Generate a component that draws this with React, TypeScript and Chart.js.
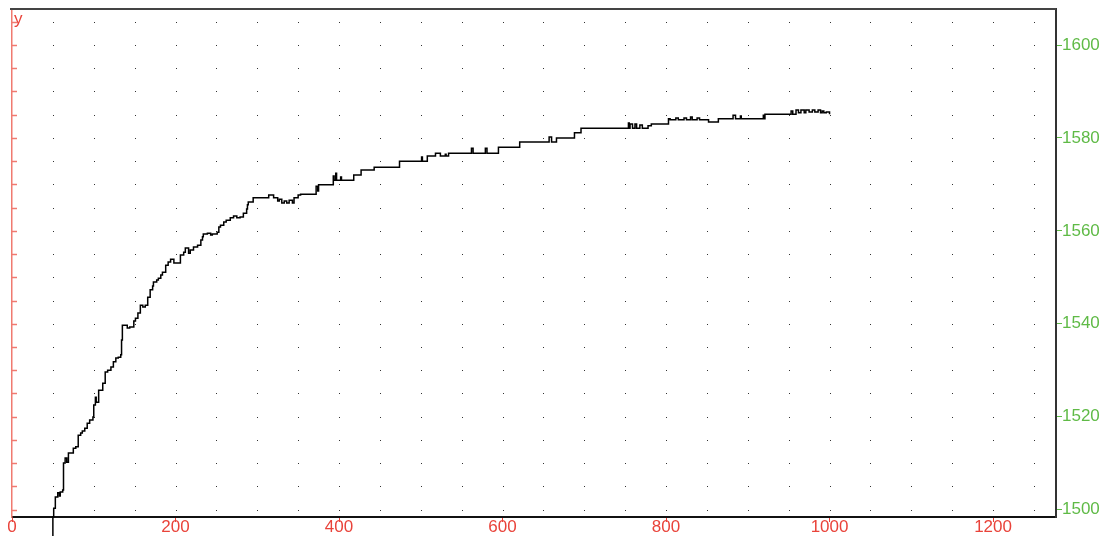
import React, { useEffect, useRef } from "react";
import { Chart, registerables } from "chart.js";

Chart.register(...registerables);

// ---- data ----
const GENERATIONS = [
  49, 50, 51, 53, 56, 58, 59, 62, 63, 65, 67, 69, 75, 78, 81, 84, 86, 89, 92, 95,
  99, 100, 102, 103, 106, 111, 114, 117, 121, 124, 127, 130, 133, 134, 135, 141, 144, 149, 151, 154,
  157, 160, 163, 166, 169, 172, 173, 177, 179, 182, 184, 188, 191, 194, 198, 206, 210, 212, 216, 218,
  222, 227, 231, 233, 234, 239, 243, 245, 251, 253, 255, 259, 262, 267, 271, 275, 279, 283, 287, 288,
  289, 295, 314, 320, 325, 327, 330, 333, 336, 339, 343, 345, 350, 353, 372, 374, 375, 393, 394, 396,
  397, 402, 403, 418, 427, 443, 474, 501, 502, 508, 518, 524, 530, 531, 534, 562, 564, 579, 581, 595,
  621, 657, 660, 666, 688, 696, 754, 755, 756, 759, 762, 764, 768, 771, 778, 782, 803, 805, 812, 815,
  822, 825, 830, 832, 838, 841, 852, 864, 882, 885, 891, 892, 919, 920, 921, 953, 955, 959, 962, 965,
  969, 971, 975, 979, 982, 986, 989, 991, 993, 996, 1000,
];
const BEST_FITNESS = [
  1493.4, 1498.4, 1500.3, 1502.7, 1503.6, 1502.9, 1503.8, 1504.2, 1510.0, 1511.1, 1510.2, 1512.2, 1513.2, 1513.5, 1516.0, 1516.5, 1516.9, 1517.5, 1518.6, 1519.3,
  1519.9, 1522.5, 1524.2, 1523.1, 1525.7, 1527.2, 1529.6, 1530.0, 1530.7, 1531.8, 1532.6, 1532.8, 1533.3, 1536.5, 1539.7, 1539.1, 1539.3, 1540.6, 1541.2, 1542.3,
  1544.0, 1543.6, 1544.0, 1545.7, 1547.3, 1548.1, 1549.0, 1549.4, 1549.8, 1550.5, 1551.1, 1552.6, 1553.3, 1553.9, 1553.1, 1554.8, 1555.4, 1556.3, 1555.2, 1555.9,
  1556.5, 1556.9, 1558.0, 1558.7, 1559.3, 1559.5, 1559.1, 1559.3, 1559.7, 1560.8, 1561.2, 1561.9, 1562.3, 1562.8, 1563.2, 1562.8, 1563.0, 1563.8, 1564.7, 1565.6,
  1566.2, 1567.1, 1567.7, 1567.1, 1566.4, 1566.8, 1566.0, 1566.4, 1566.0, 1566.6, 1566.0, 1567.1, 1567.7, 1567.9, 1569.6, 1568.6, 1569.9, 1571.8, 1570.9, 1572.4,
  1570.9, 1571.6, 1570.9, 1572.0, 1573.1, 1573.7, 1575.0, 1575.9, 1575.0, 1576.1, 1576.7, 1576.1, 1576.5, 1576.1, 1576.7, 1577.8, 1576.7, 1577.8, 1576.7, 1578.0,
  1579.1, 1580.2, 1579.1, 1580.0, 1581.1, 1582.1, 1583.2, 1582.1, 1583.0, 1582.1, 1583.0, 1582.1, 1582.8, 1582.1, 1582.6, 1583.0, 1584.1, 1583.9, 1584.3, 1583.9,
  1584.3, 1583.9, 1584.5, 1583.9, 1584.3, 1583.9, 1583.4, 1584.1, 1584.9, 1584.1, 1584.7, 1584.1, 1584.9, 1584.1, 1585.1, 1585.8, 1585.1, 1586.0, 1585.4, 1586.0,
  1585.4, 1586.0, 1585.6, 1586.0, 1585.6, 1586.0, 1585.4, 1585.8, 1585.4, 1585.6, 1585.1,
];
const X_TICK_LABELS = [0, 200, 400, 600, 800, 1000, 1200];
const Y_TICK_LABELS = [1500, 1520, 1540, 1560, 1580, 1600];
const Y_TITLE = "y";

// ---- style ----
const X_MIN = 0;
const X_MAX = 1277;
const Y_MIN = 1498.4;
const Y_MAX = 1607.75;
const RED = "#e9433a";
const LEFT_AXIS = "#f07a70";
const GREEN = "#5fba46";
const DOT = "#333333";
const FONT = { family: '"Liberation Sans", Arial, sans-serif', size: 17, lineHeight: 1 };

const decorPlugin = {
  id: "decor",
  beforeDatasetsDraw(chart: any) {
    const { ctx, chartArea: a, scales } = chart;
    const xs = scales.x;
    const ys = scales.y;
    ctx.save();
    // dotted grid
    ctx.fillStyle = DOT;
    for (const xt of xs.ticks) {
      if (xt.value <= X_MIN) continue;
      const px = Math.round(xs.getPixelForValue(xt.value));
      for (const yt of ys.ticks) {
        const py = Math.round(ys.getPixelForValue(yt.value));
        ctx.fillRect(px, py, 1, 1);
      }
    }
    // inward ticks on the left axis
    ctx.strokeStyle = LEFT_AXIS;
    ctx.lineWidth = 1.5;
    for (const yt of ys.ticks) {
      const py = Math.round(ys.getPixelForValue(yt.value)) + 0.5;
      ctx.beginPath();
      ctx.moveTo(a.left, py);
      ctx.lineTo(a.left + 5, py);
      ctx.stroke();
    }
    // top border
    ctx.strokeStyle = "#444";
    ctx.lineWidth = 2;
    ctx.beginPath();
    ctx.moveTo(a.left - 2, a.top);
    ctx.lineTo(a.right, a.top);
    ctx.stroke();
    // y title
    ctx.fillStyle = RED;
    ctx.font = `17px ${FONT.family}`;
    ctx.textBaseline = "alphabetic";
    ctx.textAlign = "left";
    ctx.fillText(Y_TITLE, a.left + 2, a.top + 15);
    ctx.restore();
  },
};

export default function App() {
  const ref = useRef<HTMLCanvasElement | null>(null);

  useEffect(() => {
    if (!ref.current) return;
    const chart = new Chart(ref.current, {
      type: "line",
      data: {
        datasets: [
          {
            data: GENERATIONS.map((g, i) => ({ x: g, y: BEST_FITNESS[i] })),
            borderColor: "#000",
            borderWidth: 1.5,
            pointRadius: 0,
            stepped: "before",
            clip: false as any,
            yAxisID: "y",
          },
        ],
      },
      options: {
        animation: false,
        responsive: true,
        maintainAspectRatio: false,
        events: [],
        layout: { padding: { top: 9, left: 0, right: 0, bottom: 0 } },
        plugins: { legend: { display: false }, tooltip: { enabled: false } },
        scales: {
          x: {
            type: "linear",
            position: "bottom",
            min: X_MIN,
            max: X_MAX,
            ticks: {
              stepSize: 50,
              includeBounds: false,
              autoSkip: false,
              maxRotation: 0,
              padding: -3,
              color: RED,
              font: FONT,
              callback: (v: any) => (X_TICK_LABELS.includes(Number(v)) ? String(v) : ""),
            },
            grid: {
              drawOnChartArea: false,
              tickLength: 5,
              color: (c: any) =>
                c.tick && X_TICK_LABELS.includes(c.tick.value) ? RED : "rgba(0,0,0,0)",
            },
            border: { color: "#111", width: 2 },
            afterFit: (s: any) => {
              s.height = 19;
              s.paddingLeft = 0;
              s.paddingRight = 0;
            },
          } as any,
          y: {
            type: "linear",
            position: "left",
            min: Y_MIN,
            max: Y_MAX,
            ticks: { stepSize: 5, includeBounds: false, callback: () => "", font: FONT },
            grid: { drawOnChartArea: false, drawTicks: false },
            border: { color: LEFT_AXIS, width: 1.5 },
            afterFit: (s: any) => {
              s.width = 12;
              s.paddingTop = 0;
              s.paddingBottom = 0;
            },
          } as any,
          y2: {
            type: "linear",
            position: "right",
            min: Y_MIN,
            max: Y_MAX,
            afterBuildTicks: (s: any) => {
              s.ticks = Y_TICK_LABELS.map((v) => ({ value: v }));
            },
            ticks: { padding: 0, color: GREEN, font: FONT, callback: (v: any) => String(v) },
            grid: { drawOnChartArea: false, tickLength: 6, color: GREEN },
            border: { color: "#333", width: 2 },
            afterFit: (s: any) => {
              s.width = 48;
              s.paddingTop = 0;
              s.paddingBottom = 0;
            },
          } as any,
        },
      },
      plugins: [decorPlugin],
    });
    return () => chart.destroy();
  }, []);

  return (
    <div
      style={{
        position: "fixed",
        left: 0,
        top: 0,
        width: 1104,
        height: 536,
        background: "#fff",
      }}
    >
      <canvas ref={ref} />
    </div>
  );
}
